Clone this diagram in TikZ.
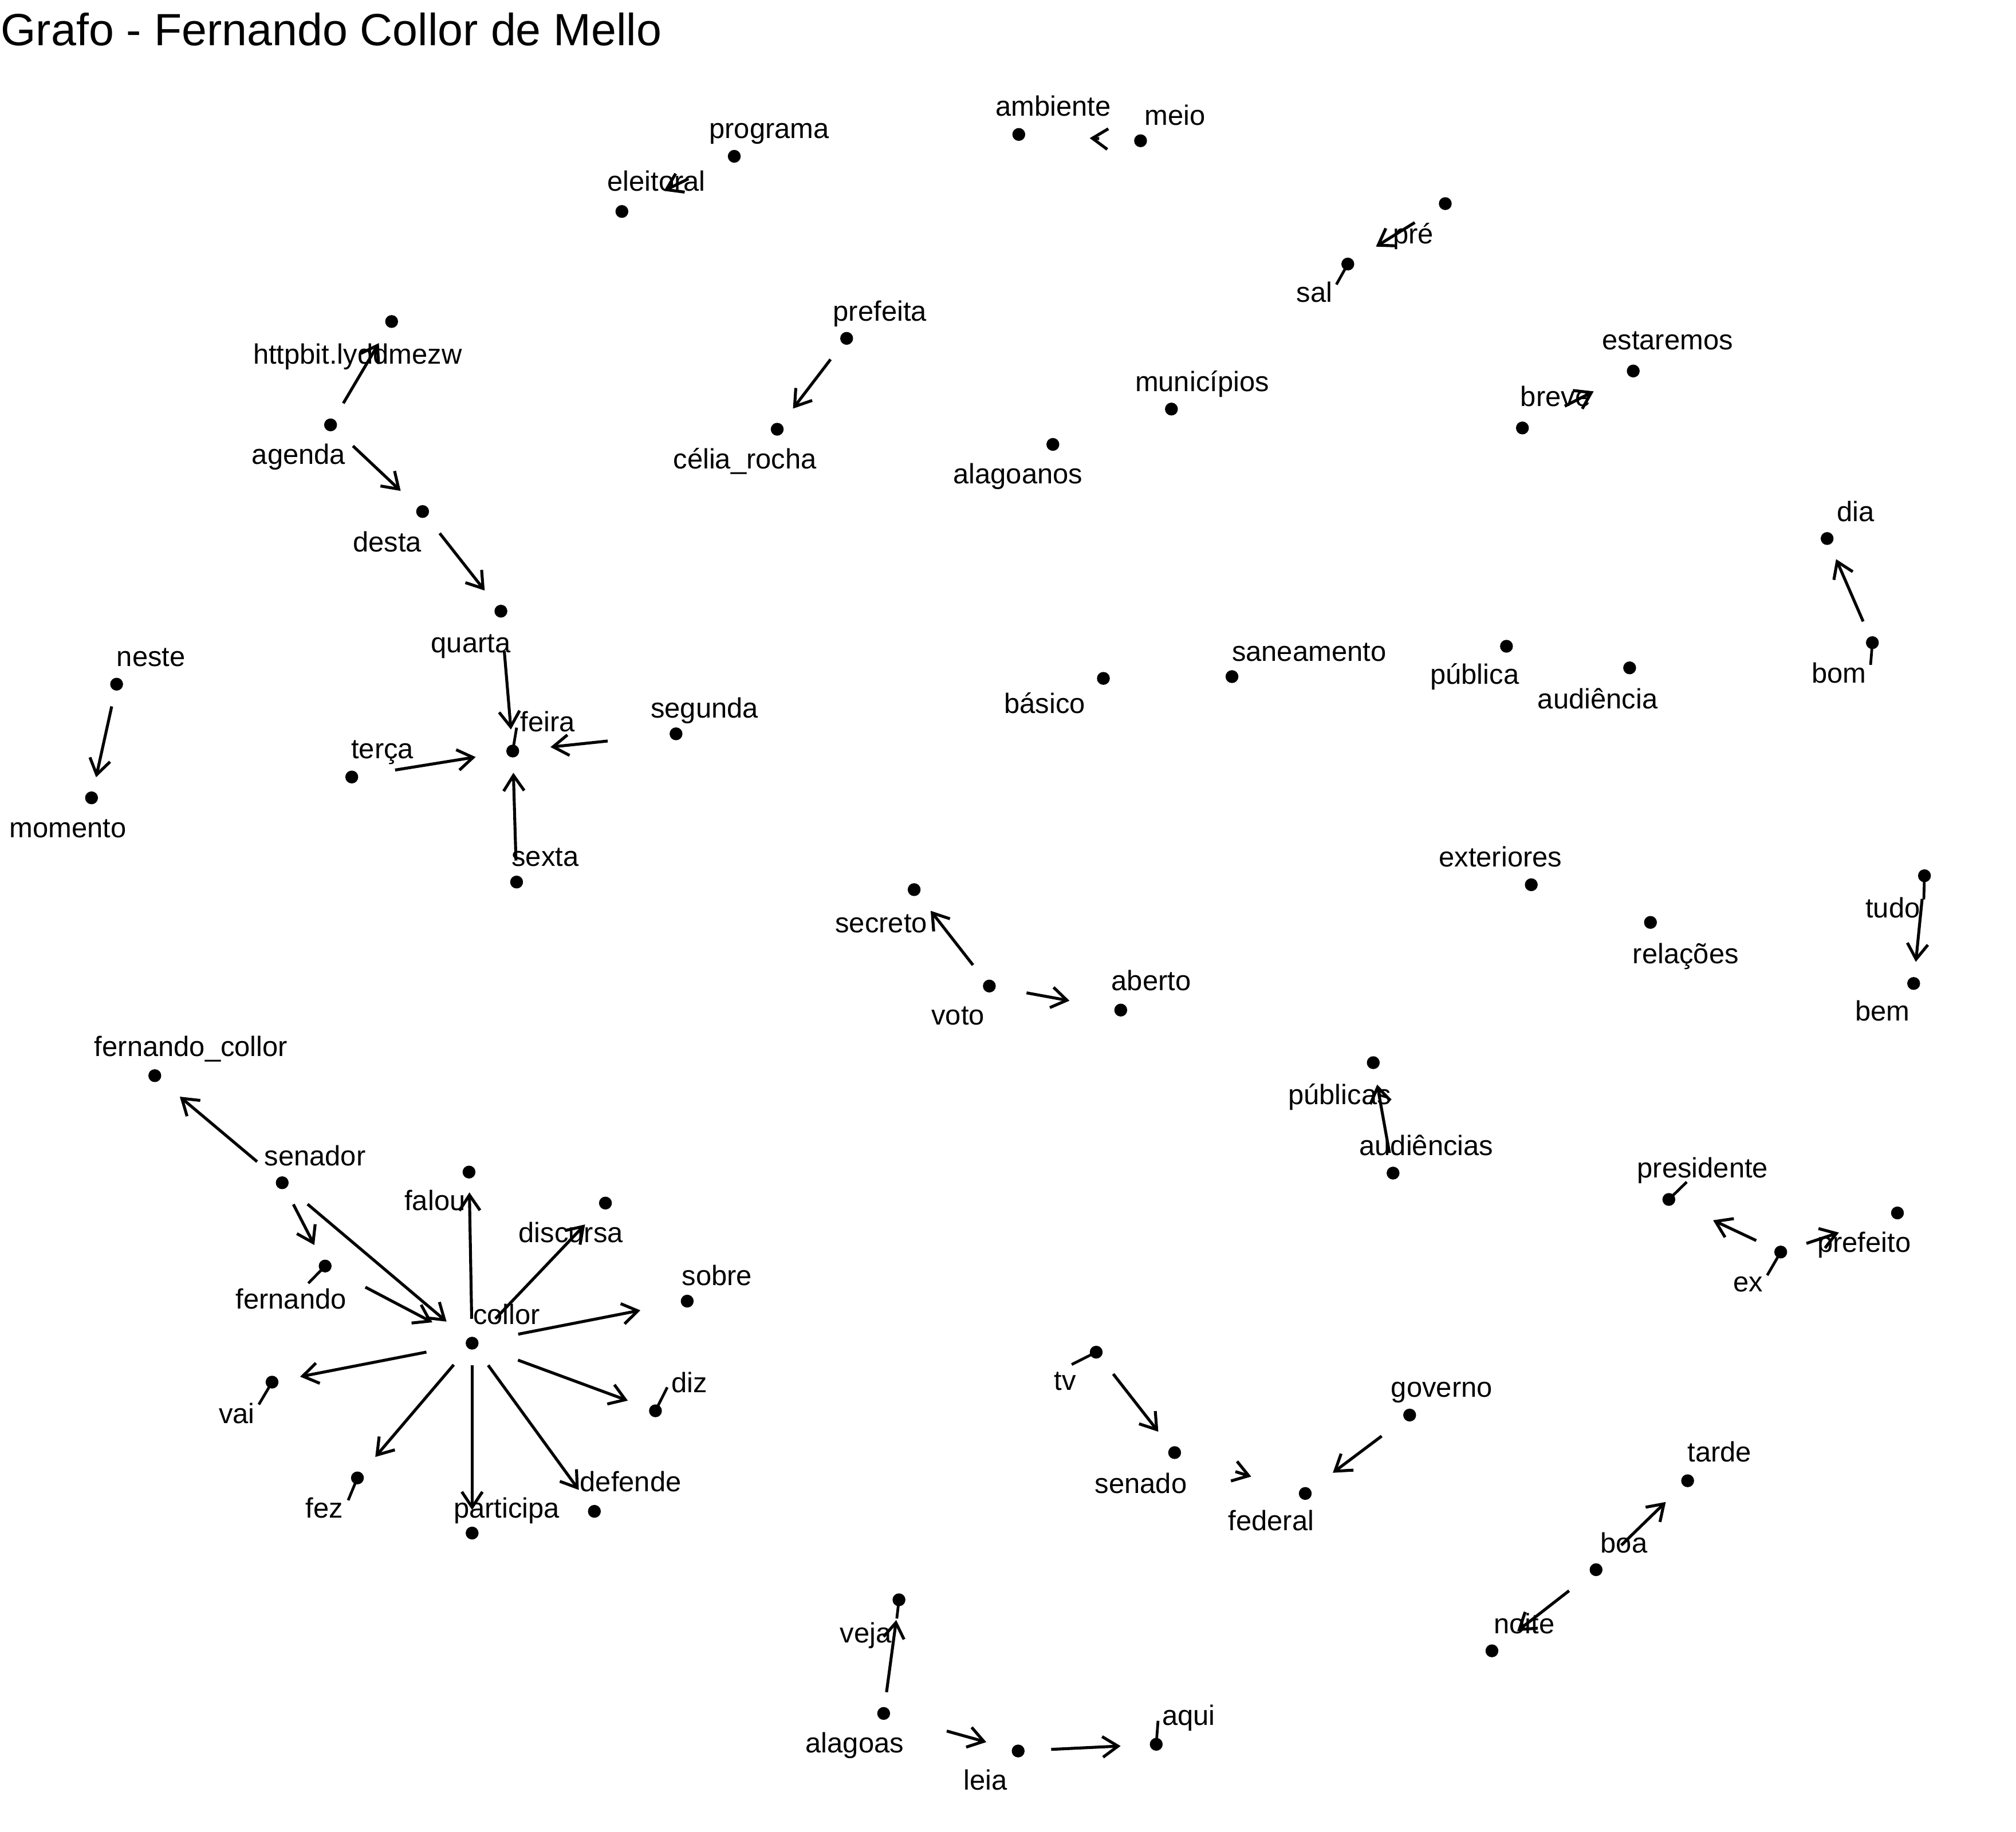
\documentclass[tikz,border=0pt]{standalone}
\usepackage{fontspec}
\setmainfont{Liberation Sans}
\usetikzlibrary{arrows.meta}

\tikzset{
 pt/.style={circle,fill=black,inner sep=0pt,minimum size=0.1cm},
 lbl/.style={inner sep=0pt,yshift=0.045cm,font=\fontsize{6.2}{7}\selectfont,text height=1.5ex,text depth=0.25ex},
 edge/.style={line width=0.65pt,-{Straight Barb[length=1.2mm,width=1.6mm]}},
 seg/.style={line width=0.6pt}
}

\begin{document}
\begin{tikzpicture}[x=0.01cm,y=-0.01cm]
\useasboundingbox (0,0) rectangle (1568,1425);

\node [anchor=base west,inner sep=0pt,font=\fontsize{10}{12}\selectfont] (titulo) at (0,35.5) {Grafo - Fernando Collor de Mello};

% pontos
\node [pt] (programa) at (571.1,121.6) {};
\node [pt] (eleitoral) at (483.7,164.5) {};
\node [pt] (ambiente) at (792.4,104.6) {};
\node [pt] (meio) at (887.1,109.5) {};
\node [pt] (pre) at (1124.1,158.4) {};
\node [pt] (sal) at (1048.3,205.4) {};
\node [pt] (httpbit) at (304.6,250.1) {};
\node [pt] (agenda) at (257.1,330.5) {};
\node [pt] (desta) at (328.7,397.9) {};
\node [pt] (prefeita) at (658.5,263.2) {};
\node [pt] (celia) at (604.5,333.9) {};
\node [pt] (municipios) at (911.1,318.2) {};
\node [pt] (alagoanos) at (818.9,345.7) {};
\node [pt] (breve) at (1184.1,332.9) {};
\node [pt] (estaremos) at (1270.3,288.6) {};
\node [pt] (quarta) at (389.6,475.4) {};
\node [pt] (feira) at (398.8,584.2) {};
\node [pt] (neste) at (90.7,532.2) {};
\node [pt] (momento) at (71.2,620.6) {};
\node [pt] (terca) at (273.6,604.4) {};
\node [pt] (segunda) at (525.8,570.8) {};
\node [pt] (sexta) at (401.8,686.1) {};
\node [pt] (basico) at (858.2,527.7) {};
\node [pt] (saneamento) at (958.2,526.3) {};
\node [pt] (secreto) at (711,692) {};
\node [pt] (voto) at (769.5,767) {};
\node [pt] (aberto) at (871.7,785.7) {};
\node [pt] (publica) at (1171.7,502.7) {};
\node [pt] (audiencia) at (1267.5,519.5) {};
\node [pt] (dia) at (1421.1,418.9) {};
\node [pt] (bom) at (1456.3,499.9) {};
\node [pt] (exteriores) at (1191,688.2) {};
\node [pt] (relacoes) at (1283.7,717.5) {};
\node [pt] (tudo) at (1496.8,681.2) {};
\node [pt] (bem) at (1488.4,765) {};
\node [pt] (fcollor) at (120.4,836.7) {};
\node [pt] (senador) at (219.5,920) {};
\node [pt] (fernando) at (252.9,984.8) {};
\node [pt] (collor) at (367.2,1044.8) {};
\node [pt] (falou) at (364.8,911.7) {};
\node [pt] (discursa) at (470.9,935.8) {};
\node [pt] (sobre) at (534.5,1012.1) {};
\node [pt] (diz) at (509.8,1097.4) {};
\node [pt] (defende) at (462.3,1175.6) {};
\node [pt] (participa) at (367.2,1192.5) {};
\node [pt] (fez) at (278,1149.6) {};
\node [pt] (vai) at (211.6,1075.1) {};
\node [pt] (tv) at (852.6,1051.8) {};
\node [pt] (senado) at (913.6,1129.9) {};
\node [pt] (federal) at (1015.2,1161.7) {};
\node [pt] (governo) at (1096.4,1100.7) {};
\node [pt] (veja) at (699.2,1244.4) {};
\node [pt] (alagoas) at (687.3,1332.8) {};
\node [pt] (leia) at (791.9,1362) {};
\node [pt] (aqui) at (899.3,1356.8) {};
\node [pt] (publicas) at (1068.1,826.6) {};
\node [pt] (audiencias) at (1083.5,912.5) {};
\node [pt] (presidente) at (1298,933) {};
\node [pt] (ex) at (1385,973.9) {};
\node [pt] (prefeito) at (1475.8,943.5) {};
\node [pt] (tarde) at (1312.6,1151.8) {};
\node [pt] (boa) at (1241.4,1221) {};
\node [pt] (noite) at (1160.4,1284.1) {};

% rotulos
\node [lbl] (programaL) at (598.3,100.3) {programa};
\node [lbl] (eleitoralL) at (510.5,141.6) {eleitoral};
\node [lbl] (ambienteL) at (819.2,83) {ambiente};
\node [lbl] (meioL) at (914,90.3) {meio};
\node [lbl] (preL) at (1099.1,182.5) {pré};
\node [lbl] (salL) at (1022.3,227.8) {sal};
\node [lbl] (httpbitL) at (278.1,275.9) {httpbit.lyddmezw};
\node [lbl] (agendaL) at (232.3,353.9) {agenda};
\node [lbl] (destaL) at (301.2,422.3) {desta};
\node [lbl] (prefeitaL) at (684.4,242.6) {prefeita};
\node [lbl] (celiaL) at (579.4,357.3) {célia\_rocha};
\node [lbl] (municipiosL) at (935,297.2) {municípios};
\node [lbl] (alagoanosL) at (791.7,369.2) {alagoanos};
\node [lbl] (breveL) at (1209.9,309) {breve};
\node [lbl] (estaremosL) at (1297,265) {estaremos};
\node [lbl] (quartaL) at (366.2,500.3) {quarta};
\node [lbl] (feiraL) at (425.9,562.1) {feira};
\node [lbl] (nesteL) at (117.5,511.2) {neste};
\node [lbl] (momentoL) at (52.8,644.5) {momento};
\node [lbl] (tercaL) at (297.4,582.7) {terça};
\node [lbl] (segundaL) at (548,551.3) {segunda};
\node [lbl] (sextaL) at (424,666.6) {sexta};
\node [lbl] (basicoL) at (812.6,547.6) {básico};
\node [lbl] (saneamentoL) at (1018.2,507) {saneamento};
\node [lbl] (secretoL) at (685.4,718.1) {secreto};
\node [lbl] (votoL) at (745.1,790) {voto};
\node [lbl] (abertoL) at (895.4,763.5) {aberto};
\node [lbl] (publicaL) at (1147,525) {pública};
\node [lbl] (audienciaL) at (1242.7,544.2) {audiência};
\node [lbl] (diaL) at (1443.2,398.5) {dia};
\node [lbl] (bomL) at (1430.3,524.3) {bom};
\node [lbl] (exterioresL) at (1167,667) {exteriores};
\node [lbl] (relacoesL) at (1311.1,742.2) {relações};
\node [lbl] (tudoL) at (1472.2,706.7) {tudo};
\node [lbl] (bemL) at (1464.1,787.1) {bem};
\node [lbl] (fcollorL) at (148.6,814.4) {fernando\_collor};
\node [lbl] (senadorL) at (245,899.6) {senador};
\node [lbl] (fernandoL) at (226.4,1010.8) {fernando};
\node [lbl] (collorL) at (394.1,1022.9) {collor};
\node [lbl] (falouL) at (338.3,934.5) {falou};
\node [lbl] (discursaL) at (444,959.1) {discursa};
\node [lbl] (sobreL) at (557.6,992.9) {sobre};
\node [lbl] (dizL) at (536.3,1075.9) {diz};
\node [lbl] (defendeL) at (490.5,1153.3) {defende};
\node [lbl] (participaL) at (394.1,1173.4) {participa};
\node [lbl] (fezL) at (252.2,1173.4) {fez};
\node [lbl] (vaiL) at (184.1,1100) {vai};
\node [lbl] (tvL) at (828.4,1074.3) {tv};
\node [lbl] (senadoL) at (887.4,1154.4) {senado};
\node [lbl] (federalL) at (988.6,1183.4) {federal};
\node [lbl] (governoL) at (1121.4,1079.6) {governo};
\node [lbl] (vejaL) at (673.3,1270.7) {veja};
\node [lbl] (alagoasL) at (664.8,1356.1) {alagoas};
\node [lbl] (leiaL) at (766.4,1385) {leia};
\node [lbl] (aquiL) at (924.5,1334.9) {aqui};
\node [lbl] (publicasL) at (1041.9,851.8) {públicas};
\node [lbl] (audienciasL) at (1109.4,891.4) {audiências};
\node [lbl] (presidenteL) at (1324.3,909.1) {presidente};
\node [lbl] (exL) at (1359.5,997.8) {ex};
\node [lbl] (prefeitoL) at (1449.9,967.1) {prefeito};
\node [lbl] (tardeL) at (1337.4,1129.7) {tarde};
\node [lbl] (boaL) at (1263.1,1200.6) {boa};
\node [lbl] (noiteL) at (1185.5,1263.6) {noite};

% ligacoes rotulo-ponto
\coordinate (salS) at (1039.4,221.3);
\coordinate (feiraS) at (401.8,566);
\coordinate (bomS) at (1454.9,517.2);
\coordinate (tudoS) at (1496.3,699.6);
\coordinate (fernandoS) at (239.8,998.2);
\coordinate (dizS) at (519,1079.1);
\coordinate (fezS) at (270.8,1167);
\coordinate (vaiS) at (201.3,1092.5);
\coordinate (tvS) at (833.5,1061.4);
\coordinate (aquiS) at (900.7,1338.5);
\coordinate (vejaS) at (697.5,1259);
\coordinate (presidenteS) at (1311.9,919.4);
\coordinate (exS) at (1374.5,992);
\draw [seg] (salS) -- (sal.center);
\draw [seg] (feiraS) -- (feira.center);
\draw [seg] (bomS) -- (bom.center);
\draw [seg] (tudoS) -- (tudo.center);
\draw [seg] (fernandoS) -- (fernando.center);
\draw [seg] (dizS) -- (diz.center);
\draw [seg] (fezS) -- (fez.center);
\draw [seg] (vaiS) -- (vai.center);
\draw [seg] (tvS) -- (tv.center);
\draw [seg] (aquiS) -- (aqui.center);
\draw [seg] (vejaS) -- (veja.center);
\draw [seg] (presidenteS) -- (presidente.center);
\draw [seg] (exS) -- (ex.center);

% arestas
\draw [edge,shorten <=0.339cm,shorten >=0.307cm] (programa) -- (eleitoral);
\draw [edge,shorten <=0.265cm,shorten >=0.495cm] (meio) -- (ambiente);
\draw [edge,shorten <=0.222cm,shorten >=0.200cm] (pre) -- (sal);
\draw [edge,shorten <=0.138cm,shorten >=0.138cm] (agenda) -- (httpbit);
\draw [edge,shorten <=0.182cm,shorten >=0.177cm] (agenda) -- (desta);
\draw [edge,shorten <=0.149cm,shorten >=0.145cm] (prefeita) -- (celia);
\draw [edge,shorten <=0.313cm,shorten >=0.289cm] (breve) -- (estaremos);
\draw [edge,shorten <=0.158cm,shorten >=0.147cm] (desta) -- (quarta);
\draw [edge,shorten <=0.254cm,shorten >=0.111cm] (quarta) -- (feira);
\draw [edge,shorten <=0.120cm,shorten >=0.107cm] (neste) -- (momento);
\draw [edge,shorten <=0.284cm,shorten >=0.235cm] (terca) -- (feira);
\draw [edge,shorten <=0.477cm,shorten >=0.238cm] (segunda) -- (feira);
\draw [edge,shorten <=0.110cm,shorten >=0.112cm] (sexta) -- (feira);
\draw [edge,shorten <=0.150cm,shorten >=0.152cm] (voto) -- (secreto);
\draw [edge,shorten <=0.237cm,shorten >=0.348cm] (voto) -- (aberto);
\draw [edge,shorten <=0.123cm,shorten >=0.118cm] (bom) -- (dia);
\draw [edge,shorten <=0.124cm,shorten >=0.112cm] (tudo) -- (bem);
\draw [edge,shorten <=0.198cm,shorten >=0.197cm] (senador) -- (fcollor);
\draw [edge,shorten <=0.132cm,shorten >=0.127cm] (senador) -- (fernando);
\draw [edge,shorten <=0.201cm,shorten >=0.203cm] (senador) -- (collor);
\draw [edge,shorten <=0.296cm,shorten >=0.292cm] (fernando) -- (collor);
\draw [edge,shorten <=0.133cm,shorten >=0.101cm] (collor) -- (falou);
\draw [edge,shorten <=0.205cm,shorten >=0.173cm] (collor) -- (discursa);
\draw [edge,shorten <=0.308cm,shorten >=0.314cm] (collor) -- (sobre);
\draw [edge,shorten <=0.323cm,shorten >=0.172cm] (collor) -- (diz);
\draw [edge,shorten <=0.155cm,shorten >=0.149cm] (collor) -- (defende);
\draw [edge,shorten <=0.115cm,shorten >=0.123cm] (collor) -- (participa);
\draw [edge,shorten <=0.163cm,shorten >=0.157cm] (collor) -- (fez);
\draw [edge,shorten <=0.305cm,shorten >=0.165cm] (collor) -- (vai);
\draw [edge,shorten <=0.158cm,shorten >=0.149cm] (tv) -- (senado);
\draw [edge,shorten <=0.438cm,shorten >=0.383cm] (senado) -- (federal);
\draw [edge,shorten <=0.215cm,shorten >=0.211cm] (governo) -- (federal);
\draw [edge,shorten <=0.110cm,shorten >=0.102cm] (alagoas) -- (veja);
\draw [edge,shorten <=0.452cm,shorten >=0.200cm] (alagoas) -- (leia);
\draw [edge,shorten <=0.200cm,shorten >=0.220cm] (leia) -- (aqui);
\draw [edge,shorten <=0.102cm,shorten >=0.116cm] (audiencias) -- (publicas);
\draw [edge,shorten <=0.153cm,shorten >=0.323cm] (ex) -- (presidente);
\draw [edge,shorten <=0.154cm,shorten >=0.423cm] (ex) -- (prefeito);
\draw [edge,shorten <=0.216cm,shorten >=0.180cm] (boa) -- (tarde);
\draw [edge,shorten <=0.209cm,shorten >=0.192cm] (boa) -- (noite);

\end{tikzpicture}
\end{document}
